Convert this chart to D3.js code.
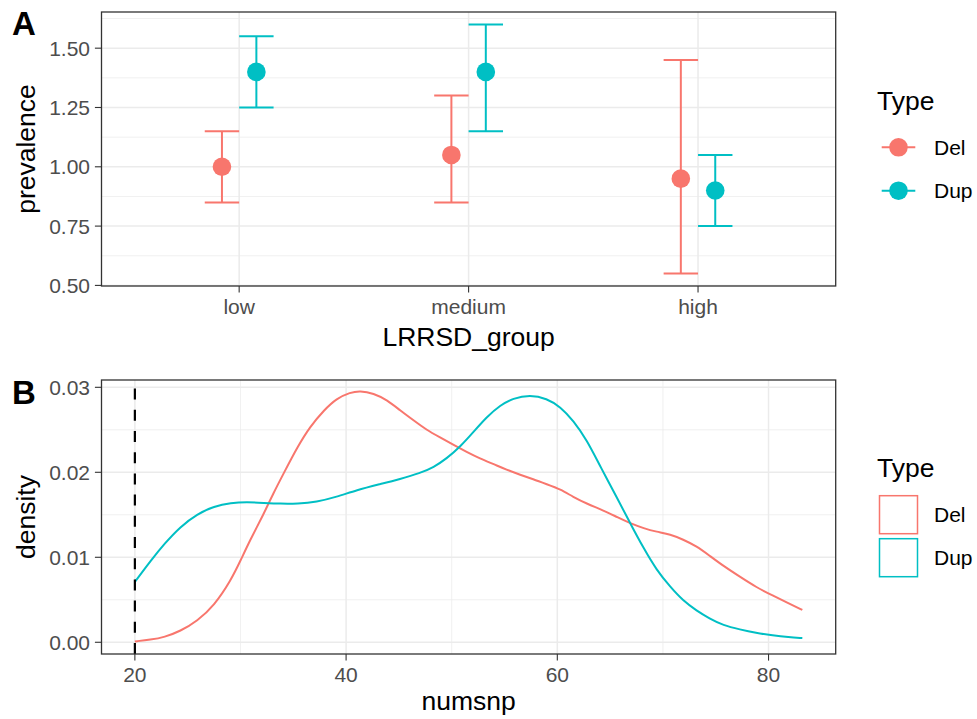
<!DOCTYPE html>
<html>
<head>
<meta charset="utf-8">
<script src="https://cdn.jsdelivr.net/npm/d3@7"></script>
<style>
  body { margin: 0; background: #fff; }
  svg { display: block; font-family: "Liberation Sans", Arial, sans-serif; }
</style>
</head>
<body>
<svg id="chart" width="977" height="719"></svg>
<script>
// Data: panel A (prevalence by LRRSD group)
const groups = ["low", "medium", "high"];
const types = ["Del", "Dup"];
const delPrev = [1.00, 1.05, 0.95];
const delLow = [0.85, 0.85, 0.55];
const delHigh = [1.15, 1.30, 1.45];
const dupPrev = [1.40, 1.40, 0.90];
const dupLow = [1.25, 1.15, 0.75];
const dupHigh = [1.55, 1.60, 1.05];
const prevTicks = [0.50, 0.75, 1.00, 1.25, 1.50];

// Data: panel B (density of numsnp)
const delX = [20, 21.5, 22.8, 24.3, 25.9, 27.5, 29.1, 30.0, 30.9, 32.2, 33.1, 34.1, 35.4, 36.6, 37.9, 39.1, 40.4, 41.3, 42.6, 43.9, 45.1, 46.4, 47.6, 48.9, 50.2, 51.4, 52.7, 53.9, 55.2, 56.5, 57.7, 59.0, 60.3, 61.5, 62.8, 64.4, 65.7, 66.9, 68.2, 69.4, 70.7, 71.9, 73.2, 74.4, 75.7, 77.3, 78.8, 80.4, 81.9, 83.2];
const delY = [0.0001, 0.0003, 0.0006, 0.0013, 0.0025, 0.0043, 0.0073, 0.0096, 0.0120, 0.0151, 0.0175, 0.0199, 0.0230, 0.0254, 0.0273, 0.0287, 0.0294, 0.0296, 0.0293, 0.0285, 0.0273, 0.0261, 0.0250, 0.0241, 0.0232, 0.0224, 0.0216, 0.0210, 0.0203, 0.0197, 0.0192, 0.0186, 0.0180, 0.0171, 0.0163, 0.0155, 0.0147, 0.0140, 0.0134, 0.0130, 0.0127, 0.0121, 0.0113, 0.0102, 0.0090, 0.0077, 0.0065, 0.0055, 0.0046, 0.0038];
const dupX = [20, 21.5, 22.8, 24.3, 25.9, 27.5, 29.1, 30.6, 32.2, 33.8, 35.4, 37.2, 39.1, 41.0, 43.2, 45.1, 47.0, 48.3, 49.5, 50.8, 52.1, 53.3, 54.6, 55.8, 57.4, 59.0, 60.3, 61.5, 62.8, 64.1, 65.7, 66.9, 68.2, 69.4, 70.7, 71.9, 73.2, 74.4, 75.7, 77.3, 78.8, 80.4, 81.9, 83.2];
const dupY = [0.0071, 0.0096, 0.0116, 0.0136, 0.0151, 0.0160, 0.0164, 0.0165, 0.0164, 0.0163, 0.0163, 0.0165, 0.0171, 0.0179, 0.0186, 0.0192, 0.0199, 0.0206, 0.0216, 0.0230, 0.0248, 0.0265, 0.0279, 0.0287, 0.0291, 0.0287, 0.0277, 0.0261, 0.0238, 0.0206, 0.0169, 0.0140, 0.0110, 0.0085, 0.0065, 0.0049, 0.0037, 0.0028, 0.0020, 0.0015, 0.0011, 0.0008, 0.0006, 0.0005];
const numsnpTicks = [20, 40, 60, 80];
const numsnpMinor = [30, 50, 70];
const densityTicks = [0.00, 0.01, 0.02, 0.03];
const densityMinor = [0.005, 0.015, 0.025];
const cutoff = 20;

const colors = { Del: "#F8766D", Dup: "#00BFC4" };
const gridColor = "#EBEBEB";
const tickColor = "#4D4D4D";
const svg = d3.select("#chart");

// Shared helpers for the ggplot theme_bw look
function drawYAxis(g, y, ticks, fmt) {
    const axis = g.append("g");
    ticks.forEach(t => {
        axis.append("line").attr("x1", -6.6).attr("x2", 0)
            .attr("y1", y(t)).attr("y2", y(t))
            .attr("stroke", "#333").attr("stroke-width", 1.1);
        axis.append("text").attr("x", -11.5).attr("y", y(t)).attr("dy", "0.36em")
            .attr("text-anchor", "end").attr("fill", tickColor)
            .style("font-size", "21px").text(fmt(t));
    });
}

function drawXAxis(g, x, ticks, height, fmt) {
    const axis = g.append("g").attr("transform", `translate(0,${height})`);
    ticks.forEach(t => {
        axis.append("line").attr("x1", x(t)).attr("x2", x(t))
            .attr("y1", 0).attr("y2", 6.6)
            .attr("stroke", "#333").attr("stroke-width", 1.1);
        axis.append("text").attr("x", x(t)).attr("y", 28)
            .attr("text-anchor", "middle").attr("fill", tickColor)
            .style("font-size", "21px").text(fmt(t));
    });
}

// Panel A: point + errorbar
function drawPanelA() {
    const margin = { left: 101.5, top: 12 },
        width = 734.2,
        height = 274;
    const chart = svg.append("g").attr("transform", `translate(${margin.left},${margin.top})`);

    const x = d3.scalePoint().domain(groups).range([0, width]).padding(0.6);
    const y = d3.scaleLinear().domain([0.4975, 1.6525]).range([height, 0]);
    const step = x.step();

    // Grid
    const minor = d3.range(0.625, 1.65, 0.25);
    chart.selectAll(".minor-y").data(minor).enter().append("line")
        .attr("x1", 0).attr("x2", width).attr("y1", d => y(d)).attr("y2", d => y(d))
        .attr("stroke", gridColor).attr("stroke-width", 0.75);
    chart.selectAll(".major-y").data(prevTicks).enter().append("line")
        .attr("x1", 0).attr("x2", width).attr("y1", d => y(d)).attr("y2", d => y(d))
        .attr("stroke", gridColor).attr("stroke-width", 1.5);
    chart.selectAll(".major-x").data(groups).enter().append("line")
        .attr("x1", d => x(d)).attr("x2", d => x(d)).attr("y1", 0).attr("y2", height)
        .attr("stroke", gridColor).attr("stroke-width", 1.5);

    const series = [
        { type: "Del", mid: delPrev, lo: delLow, hi: delHigh, off: -0.075 },
        { type: "Dup", mid: dupPrev, lo: dupLow, hi: dupHigh, off: 0.075 }
    ];
    const capHalf = 0.075 * step;

    series.forEach(s => {
        const col = colors[s.type];
        groups.forEach((gname, i) => {
            const cx = x(gname) + s.off * step;
            const eb = chart.append("g").attr("stroke", col).attr("stroke-width", 2).attr("fill", "none");
            eb.append("line").attr("x1", cx).attr("x2", cx).attr("y1", y(s.lo[i])).attr("y2", y(s.hi[i]));
            eb.append("line").attr("x1", cx - capHalf).attr("x2", cx + capHalf).attr("y1", y(s.lo[i])).attr("y2", y(s.lo[i]));
            eb.append("line").attr("x1", cx - capHalf).attr("x2", cx + capHalf).attr("y1", y(s.hi[i])).attr("y2", y(s.hi[i]));
            chart.append("circle").attr("cx", cx).attr("cy", y(s.mid[i])).attr("r", 9.3).attr("fill", col);
        });
    });

    chart.append("rect").attr("width", width).attr("height", height)
        .attr("fill", "none").attr("stroke", "#333").attr("stroke-width", 1.3);

    drawYAxis(chart, y, prevTicks, d3.format(".2f"));
    drawXAxis(chart, x, groups, height, d => d);

    // Titles
    svg.append("text").attr("x", 468.6).attr("y", 346).attr("text-anchor", "middle")
        .style("font-size", "26.5px").text("LRRSD_group");
    svg.append("text").attr("transform", "translate(35,149) rotate(-90)").attr("text-anchor", "middle")
        .style("font-size", "26.5px").text("prevalence");
    svg.append("text").attr("x", 12).attr("y", 35).style("font-size", "33px")
        .style("font-weight", "bold").text("A");

    // Legend
    const leg = svg.append("g");
    leg.append("text").attr("x", 877).attr("y", 110).style("font-size", "26.5px").text("Type");
    types.forEach((t, i) => {
        const cy = 147.3 + i * 43.4;
        leg.append("line").attr("x1", 881.7).attr("x2", 915.3).attr("y1", cy).attr("y2", cy)
            .attr("stroke", colors[t]).attr("stroke-width", 2);
        leg.append("circle").attr("cx", 898.5).attr("cy", cy).attr("r", 9.3).attr("fill", colors[t]);
        leg.append("text").attr("x", 934).attr("y", cy).attr("dy", "0.36em")
            .style("font-size", "21px").text(t);
    });
}

// Panel B: density lines
function drawPanelB() {
    const margin = { left: 101.5, top: 380 },
        width = 734.2,
        height = 274;
    const chart = svg.append("g").attr("transform", `translate(${margin.left},${margin.top})`);

    const x = d3.scaleLinear().domain([16.84, 86.36]).range([0, width]);
    const y = d3.scaleLinear().domain([-0.00138, 0.03086]).range([height, 0]);

    chart.selectAll(".minor-y").data(densityMinor).enter().append("line")
        .attr("x1", 0).attr("x2", width).attr("y1", d => y(d)).attr("y2", d => y(d))
        .attr("stroke", gridColor).attr("stroke-width", 0.75);
    chart.selectAll(".minor-x").data(numsnpMinor).enter().append("line")
        .attr("x1", d => x(d)).attr("x2", d => x(d)).attr("y1", 0).attr("y2", height)
        .attr("stroke", gridColor).attr("stroke-width", 0.75);
    chart.selectAll(".major-y").data(densityTicks).enter().append("line")
        .attr("x1", 0).attr("x2", width).attr("y1", d => y(d)).attr("y2", d => y(d))
        .attr("stroke", gridColor).attr("stroke-width", 1.5);
    chart.selectAll(".major-x").data(numsnpTicks).enter().append("line")
        .attr("x1", d => x(d)).attr("x2", d => x(d)).attr("y1", 0).attr("y2", height)
        .attr("stroke", gridColor).attr("stroke-width", 1.5);

    // B-spline smooths out small reading errors in the traced values
    const line = d3.line().x(d => x(d[0])).y(d => y(d[1])).curve(d3.curveBasis);
    const delData = d3.zip(delX, delY);
    const dupData = d3.zip(dupX, dupY);

    chart.append("path").datum(delData).attr("d", line)
        .attr("fill", "none").attr("stroke", colors.Del).attr("stroke-width", 2);
    chart.append("path").datum(dupData).attr("d", line)
        .attr("fill", "none").attr("stroke", colors.Dup).attr("stroke-width", 2);

    // Cutoff line (dash pattern runs from the bottom up)
    chart.append("line").attr("x1", x(cutoff)).attr("x2", x(cutoff)).attr("y1", height).attr("y2", 0)
        .attr("stroke", "#000").attr("stroke-width", 2.2).attr("stroke-dasharray", "11,10.2");

    chart.append("rect").attr("width", width).attr("height", height)
        .attr("fill", "none").attr("stroke", "#333").attr("stroke-width", 1.3);

    drawYAxis(chart, y, densityTicks, d3.format(".2f"));
    drawXAxis(chart, x, numsnpTicks, height, d => d);

    svg.append("text").attr("x", 468.6).attr("y", 710).attr("text-anchor", "middle")
        .style("font-size", "26.5px").text("numsnp");
    svg.append("text").attr("transform", "translate(35,517) rotate(-90)").attr("text-anchor", "middle")
        .style("font-size", "26.5px").text("density");
    svg.append("text").attr("x", 12).attr("y", 404).style("font-size", "33px")
        .style("font-weight", "bold").text("B");

    const leg = svg.append("g");
    leg.append("text").attr("x", 877).attr("y", 477).style("font-size", "26.5px").text("Type");
    types.forEach((t, i) => {
        const top = 495.7 + i * 43;
        leg.append("rect").attr("x", 879.5).attr("y", top).attr("width", 38).attr("height", 38)
            .attr("fill", "#fff").attr("stroke", colors[t]).attr("stroke-width", 1.5);
        leg.append("text").attr("x", 934).attr("y", top + 19).attr("dy", "0.36em")
            .style("font-size", "21px").text(t);
    });
}

drawPanelA();
drawPanelB();
</script>
</body>
</html>
